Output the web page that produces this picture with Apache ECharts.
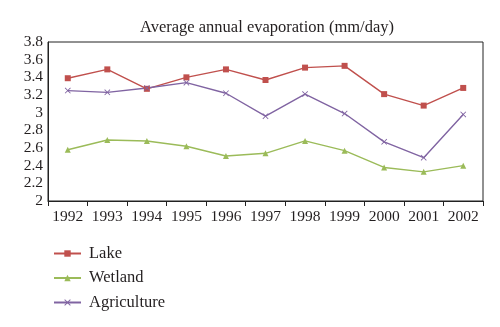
<!DOCTYPE html>
<html><head><meta charset="utf-8">
<script src="https://cdn.jsdelivr.net/npm/echarts@6/dist/echarts.min.js"></script>
<style>html,body{margin:0;padding:0;background:#fff}#c{width:500px;height:327px}</style>
</head><body><div id="c"></div>
<script>
var years = ['1992','1993','1994','1995','1996','1997','1998','1999','2000','2001','2002'];
var lake = [3.39,3.49,3.27,3.40,3.49,3.37,3.51,3.53,3.21,3.08,3.28];
var wetland = [2.58,2.69,2.68,2.62,2.51,2.54,2.68,2.57,2.38,2.33,2.40];
var agriculture = [3.25,3.23,3.28,3.34,3.22,2.96,3.21,2.99,2.67,2.49,2.98];
var yTicks = ['2','2.2','2.4','2.6','2.8','3','3.2','3.4','3.6','3.8'];

var F = 'Liberation Serif';
var xSym = 'path://M0,1 L1,0 L5,4 L9,0 L10,1 L6,5 L10,9 L9,10 L5,6 L1,10 L0,9 L4,5 Z';
var chart = echarts.init(document.getElementById('c'));
chart.setOption({
  animation: false,
  title: { text: 'Average annual evaporation (mm/day)', left: 262, textAlign: 'center', top: 14,
    textStyle: { fontFamily: F, fontSize: 16.5, fontWeight: 'normal', color: '#231f20' } },
  grid: { left: 48, right: 17, top: 42, bottom: 126, show: true, borderColor: '#222', borderWidth: 1, backgroundColor: 'transparent' },
  legend: { orient: 'vertical', left: 48, top: 240, itemWidth: 27, itemHeight: 8, itemGap: 7.5,
    textStyle: { fontFamily: F, fontSize: 16.5, color: '#231f20', padding: [0, 0, 0, 3] },
    data: ['Lake','Wetland','Agriculture'] },
  xAxis: { type: 'category', data: years, boundaryGap: true,
    axisLine: { lineStyle: { color: '#222' } },
    axisTick: { show: true, length: 5, lineStyle: { color: '#222' } },
    axisLabel: { interval: 0, fontFamily: F, fontSize: 15.5, color: '#231f20', margin: 8 } },
  yAxis: { type: 'value', min: 2, max: 3.8, interval: 0.2,
    axisLine: { show: true, lineStyle: { color: '#222' } },
    axisTick: { show: false },
    splitLine: { show: false },
    axisLabel: { fontFamily: F, fontSize: 15.5, color: '#231f20', margin: 5,
      formatter: function (v) { var i = Math.round((v - 2) / 0.2); return yTicks[i]; } } },
  series: [
    { name: 'Lake', type: 'line', data: lake, symbol: 'rect', symbolSize: 6,
      itemStyle: { color: '#c0504d' }, lineStyle: { color: '#c0504d', width: 1.4 } },
    { name: 'Wetland', type: 'line', data: wetland, symbol: 'triangle', symbolSize: 6,
      itemStyle: { color: '#9bbb59' }, lineStyle: { color: '#9bbb59', width: 1.4 } },
    { name: 'Agriculture', type: 'line', data: agriculture, symbol: xSym, symbolSize: 6,
      itemStyle: { color: '#8064a2' }, lineStyle: { color: '#8064a2', width: 1.4 } }
  ]
});
</script></body></html>
